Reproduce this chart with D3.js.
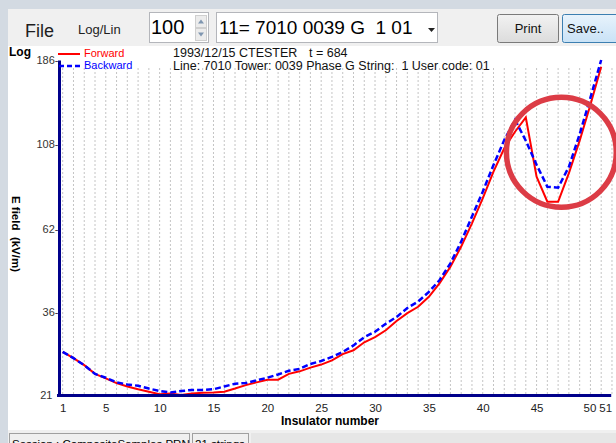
<!DOCTYPE html>
<html>
<head>
<meta charset="utf-8">
<script src="https://cdn.jsdelivr.net/npm/d3@7"></script>
<style>
  body { margin: 0; background: #d3dae2; }
  svg { display: block; font-family: "Liberation Sans", Arial, sans-serif; }
  text { white-space: pre; }
</style>
</head>
<body>
<svg id="chart" width="616" height="443"></svg>
<script>
// insulator numbers 1..51
var insulators = d3.range(1, 52);

// forward scan (red)
var forward = [
  27.8, 26.7, 25.5, 24.1, 23.4, 22.7, 22.2, 21.8, 21.45, 21.1,
  21.2, 21.0, 21.2, 21.3, 21.35, 21.45, 21.9, 22.4, 22.8, 23.2,
  23.2, 24.1, 24.5, 25.1, 25.6, 26.3, 27.4, 28.1, 29.6, 30.6,
  32.0, 34.0, 35.8, 37.3, 39.8, 43.5, 48.4, 55.2, 64.2, 75.6,
  89.9, 104.7, 116.6, 128, 87, 73.9, 73.9, 89, 110, 139,
  178
];

// backward scan (blue, dashed)
var backward = [
  27.8, 26.7, 25.5, 24.1, 23.5, 22.8, 22.5, 22.3, 21.9, 21.55,
  21.35, 21.55, 21.7, 21.7, 21.8, 22.2, 22.6, 22.7, 23.1, 23.5,
  24.0, 24.6, 24.9, 25.7, 26.2, 26.9, 27.8, 29.0, 30.6, 31.7,
  33.4, 34.9, 37.0, 38.6, 41.1, 44.4, 49.5, 57.0, 67.1, 78.9,
  93.9, 110.5, 125.9, 110, 94, 81.5, 81, 92.8, 114.7, 145.5,
  186
];

var xTicks = [1, 5, 10, 15, 20, 25, 30, 35, 40, 45, 50, 51];
var yTicks = [21, 36, 62, 108, 186];

// red circle drawn on the screenshot (insulator, kV/m, radius in insulators)
var marker = [47.3, 102, 5.1];

var svg = d3.select("#chart");

var x = d3.scaleLinear().domain([1, 51]).range([62.7, 601.2]);
var y = d3.scaleLog().domain([21, 186]).range([395, 60]);

// ---- window chrome ----
svg.append("rect").attr("width", 616).attr("height", 443).attr("fill", "#d3dae2");
svg.append("rect").attr("x", 8).attr("y", 9).attr("width", 608).attr("height", 37).attr("fill", "#f0f0f0");
svg.append("rect").attr("x", 8).attr("y", 46).attr("width", 608).attr("height", 384).attr("fill", "#fff");
svg.append("rect").attr("x", 8).attr("y", 430).attr("width", 608).attr("height", 13).attr("fill", "#f0f0f0");

var defs = svg.append("defs");
var g1 = defs.append("linearGradient").attr("id", "btnGrey").attr("x1", 0).attr("y1", 0).attr("x2", 0).attr("y2", 1);
g1.append("stop").attr("offset", 0).attr("stop-color", "#f2f2f2");
g1.append("stop").attr("offset", 1).attr("stop-color", "#dcdcdc");
var g2 = defs.append("linearGradient").attr("id", "btnBlue").attr("x1", 0).attr("y1", 0).attr("x2", 0).attr("y2", 1);
g2.append("stop").attr("offset", 0).attr("stop-color", "#e8f3fc");
g2.append("stop").attr("offset", 1).attr("stop-color", "#c9e2f6");

svg.append("text").attr("x", 25).attr("y", 37).attr("font-size", 18).attr("fill", "#1e1e1e").text("File");
svg.append("text").attr("x", 78).attr("y", 34).attr("font-size", 13).attr("fill", "#1e1e1e").text("Log/Lin");

// spin box
svg.append("rect").attr("x", 149.5).attr("y", 12.5).attr("width", 59).attr("height", 30)
  .attr("fill", "#fff").attr("stroke", "#b4b6bb");
svg.append("text").attr("x", 151).attr("y", 34).attr("font-size", 20).attr("fill", "#000").text("100");
[[195, 15.5], [195, 28.5]].forEach(function (p, i) {
  svg.append("rect").attr("x", p[0] + 0.5).attr("y", p[1]).attr("width", 11).attr("height", 12)
    .attr("fill", "#ececec").attr("stroke", "#cfcfcf");
  var cx = p[0] + 6, cy = p[1] + 6;
  var pts = i == 0
    ? [[cx - 3, cy + 2], [cx + 3, cy + 2], [cx, cy - 2]]
    : [[cx - 3, cy - 2], [cx + 3, cy - 2], [cx, cy + 2]];
  svg.append("polygon").attr("points", pts.join(" ")).attr("fill", "#7f96b0");
});

// combo box
svg.append("rect").attr("x", 216.5).attr("y", 12.5).attr("width", 221).attr("height", 30)
  .attr("fill", "#fff").attr("stroke", "#b4b6bb");
svg.append("text").attr("x", 219).attr("y", 34).attr("font-size", 19).attr("fill", "#000").text("11= 7010 0039 G  1 01");
svg.append("polygon").attr("points", "428,28 435,28 431.5,32").attr("fill", "#222");

// buttons
svg.append("rect").attr("x", 497.5).attr("y", 14.5).attr("width", 61).attr("height", 28).attr("rx", 2)
  .attr("fill", "url(#btnGrey)").attr("stroke", "#7a7a7a");
svg.append("text").attr("x", 528).attr("y", 33).attr("font-size", 13).attr("text-anchor", "middle").attr("fill", "#111").text("Print");
svg.append("rect").attr("x", 562.5).attr("y", 14.5).attr("width", 60).attr("height", 28).attr("rx", 2)
  .attr("fill", "url(#btnBlue)").attr("stroke", "#3c7fb1");
svg.append("text").attr("x", 567).attr("y", 33).attr("font-size", 13).attr("fill", "#111").text("Save..");

// status bar
svg.append("rect").attr("x", 9.5).attr("y", 433.5).attr("width", 180).attr("height", 14).attr("fill", "#f0f0f0").attr("stroke", "#a0a0a0");
svg.append("text").attr("x", 12).attr("y", 447.5).attr("font-size", 11.5).attr("fill", "#000").text("Session : CompositeSamples.PRN");
svg.append("rect").attr("x", 192.5).attr("y", 433.5).attr("width", 56).attr("height", 14).attr("fill", "#f0f0f0").attr("stroke", "#a0a0a0");
svg.append("text").attr("x", 195).attr("y", 447.5).attr("font-size", 11.5).attr("fill", "#000").text("21 strings");
svg.append("rect").attr("x", 251).attr("y", 433).attr("width", 365).attr("height", 10).attr("fill", "#e6e6e6");

// ---- plot ----
var g = svg.append("g");

// vertical dashed grid, one per insulator
g.append("g")
  .selectAll("line")
  .data(d3.range(1, 53))
  .enter()
  .append("line")
  .attr("x1", (d) => x(d))
  .attr("x2", (d) => x(d))
  .attr("y1", y(186) + 8)
  .attr("y2", y(21))
  .attr("stroke", "#c4c4c4")
  .attr("stroke-dasharray", "2,2");

var line = d3
  .line()
  .x((d, i) => x(insulators[i]))
  .y((d) => y(d));

g.append("path")
  .datum(forward)
  .attr("d", line)
  .attr("fill", "none")
  .attr("stroke", "#ff0000")
  .attr("stroke-width", 2);

g.append("path")
  .datum(backward)
  .attr("d", line)
  .attr("fill", "none")
  .attr("stroke", "#0000ff")
  .attr("stroke-width", 2.5)
  .attr("stroke-dasharray", "6,3");

// axes (thick navy lines)
var axisY = g.append("g").attr("transform", "translate(" + 58.5 + ",0)")
  .call(d3.axisLeft(y).tickValues(yTicks).tickSize(0).tickPadding(0)
    .tickFormat((d) => (d == 21 ? "21  " : d + "-")));
axisY.select(".domain").attr("stroke", "#00008b").attr("stroke-width", 3)
  .attr("d", "M1," + (y(186) + 0.5) + "V" + (y(21) + 2));
axisY.selectAll("text").attr("font-size", 11).attr("fill", "#333").attr("font-family", "Liberation Sans, Arial, sans-serif");

var axisX = g.append("g").attr("transform", "translate(0," + 395.5 + ")")
  .call(d3.axisBottom(x).tickValues(xTicks).tickSize(0).tickPadding(8));
axisX.select(".domain").attr("stroke", "#00008b").attr("stroke-width", 3)
  .attr("d", "M" + 57 + ",0H" + (x(51) + 10));
axisX.selectAll("text").attr("font-size", 11.5).attr("fill", "#222").attr("font-family", "Liberation Sans, Arial, sans-serif")
  .attr("dx", (d) => (d == 51 ? 4 : d == 50 ? -1 : 0));

// titles
svg.append("text").attr("x", 9).attr("y", 56).attr("font-size", 12).attr("font-weight", "bold").text("Log");
svg.append("text").attr("transform", "translate(12,234) rotate(90)").attr("text-anchor", "middle")
  .attr("font-size", 11.5).attr("font-weight", "bold").text("E field  (kV/m)");
svg.append("text").attr("x", 330).attr("y", 425).attr("text-anchor", "middle")
  .attr("font-size", 12).attr("font-weight", "bold").text("Insulator number");

// legend
svg.append("line").attr("x1", 58).attr("x2", 80).attr("y1", 54).attr("y2", 54).attr("stroke", "#ff0000").attr("stroke-width", 2);
svg.append("text").attr("x", 84).attr("y", 56.5).attr("font-size", 11).attr("fill", "#ff0000").text("Forward");
svg.append("line").attr("x1", 59).attr("x2", 81).attr("y1", 66).attr("y2", 66).attr("stroke", "#0000ff").attr("stroke-width", 2.5).attr("stroke-dasharray", "5,3");
svg.append("text").attr("x", 84).attr("y", 69).attr("font-size", 11).attr("fill", "#0000ff").text("Backward");

// header
svg.append("text").attr("x", 173).attr("y", 57).attr("font-size", 12.5).attr("fill", "#111").text("1993/12/15 CTESTER");
svg.append("text").attr("x", 309).attr("y", 57).attr("font-size", 12.5).attr("fill", "#111").text("t = 684");
svg.append("text").attr("x", 173).attr("y", 69.5).attr("font-size", 12.5).attr("fill", "#111")
  .text("Line: 7010 Tower: 0039 Phase G String:  1 User code: 01");

// hand-drawn circle annotation
svg.append("circle")
  .attr("cx", x(marker[0]))
  .attr("cy", y(marker[1]))
  .attr("r", x(marker[0] + marker[2]) - x(marker[0]))
  .attr("fill", "none")
  .attr("stroke", "#dc3c46")
  .attr("stroke-width", 5.5);
</script>
</body>
</html>
